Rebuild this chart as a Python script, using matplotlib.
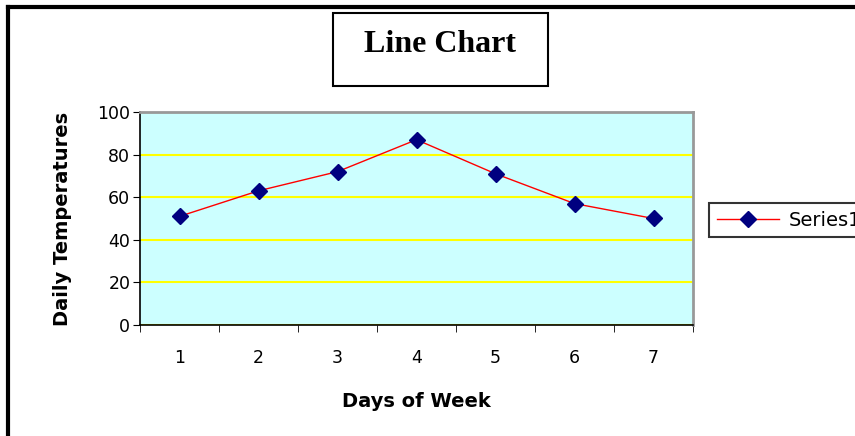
import matplotlib.pyplot as plt
import numpy as np
from matplotlib.patches import Rectangle
from matplotlib.lines import Line2D

days = [1, 2, 3, 4, 5, 6, 7]
temps = [51, 63, 72, 87, 71, 57, 50]
series_name = "Series1"

W, H = 855, 436
fig = plt.figure(figsize=(W / 100, H / 100), dpi=100)

# outer frame (left and top visible)
fig.add_artist(Line2D([8 / W, 8 / W], [0, 1 - 7 / H], color='black', lw=3, transform=fig.transFigure))
fig.add_artist(Line2D([8 / W, 1], [1 - 7 / H, 1 - 7 / H], color='black', lw=3, transform=fig.transFigure))

# title box
fig.add_artist(Rectangle((333 / W, 1 - 86 / H), 215 / W, 73 / H, transform=fig.transFigure,
                         fill=False, edgecolor='black', lw=1.5))
fig.text(440 / W, 1 - 45 / H, "Line Chart", ha='center', va='center',
         fontsize=23, fontweight='bold', family='Liberation Serif')

ax = fig.add_axes([140 / W, 1 - 325 / H, 553 / W, 213 / H])
ax.set_facecolor('#ccffff')
ax.plot(days, temps, color='red', lw=1, marker='D', markersize=8,
        markerfacecolor='#000080', markeredgecolor='#000080', label=series_name)

ax.set_xlim(0.5, 7.5)
ax.set_ylim(0, 100)
ax.set_yticks(np.arange(0, 101, 20))
ax.set_xticks(days)
ax.set_xticks(np.arange(0.5, 7.6, 1), minor=True)
ax.tick_params(axis='x', which='major', length=0, pad=17, labelsize=12.5)
ax.tick_params(axis='x', which='minor', length=5, direction='out')
ax.tick_params(axis='y', length=5, labelsize=12.5, pad=2)
for lab in ax.get_xticklabels() + ax.get_yticklabels():
    lab.set_family('DejaVu Sans')

ax.grid(axis='y', color='#ffff00', lw=1.5)
ax.set_axisbelow(True)
for s in ['top', 'right']:
    ax.spines[s].set_color('#999999')
    ax.spines[s].set_linewidth(2)
for s in ['left', 'bottom']:
    ax.spines[s].set_color('black')
    ax.spines[s].set_linewidth(1.2)

ax.set_xlabel("Days of Week", fontsize=14, fontweight='bold', family='DejaVu Sans', labelpad=18)
ax.set_ylabel("Daily Temperatures", fontsize=14, fontweight='bold', family='DejaVu Sans', labelpad=18)

leg = ax.legend(loc='center left', bbox_to_anchor=(709 / W, 1 - 220 / H), bbox_transform=fig.transFigure,
                frameon=True, fancybox=False, edgecolor='black',
                prop={'family': 'DejaVu Sans', 'size': 14}, handlelength=3.2, borderpad=0.4,
                handletextpad=0.5, borderaxespad=0)
leg.get_frame().set_linewidth(1.5)

fig.savefig("out.png", dpi=100)
